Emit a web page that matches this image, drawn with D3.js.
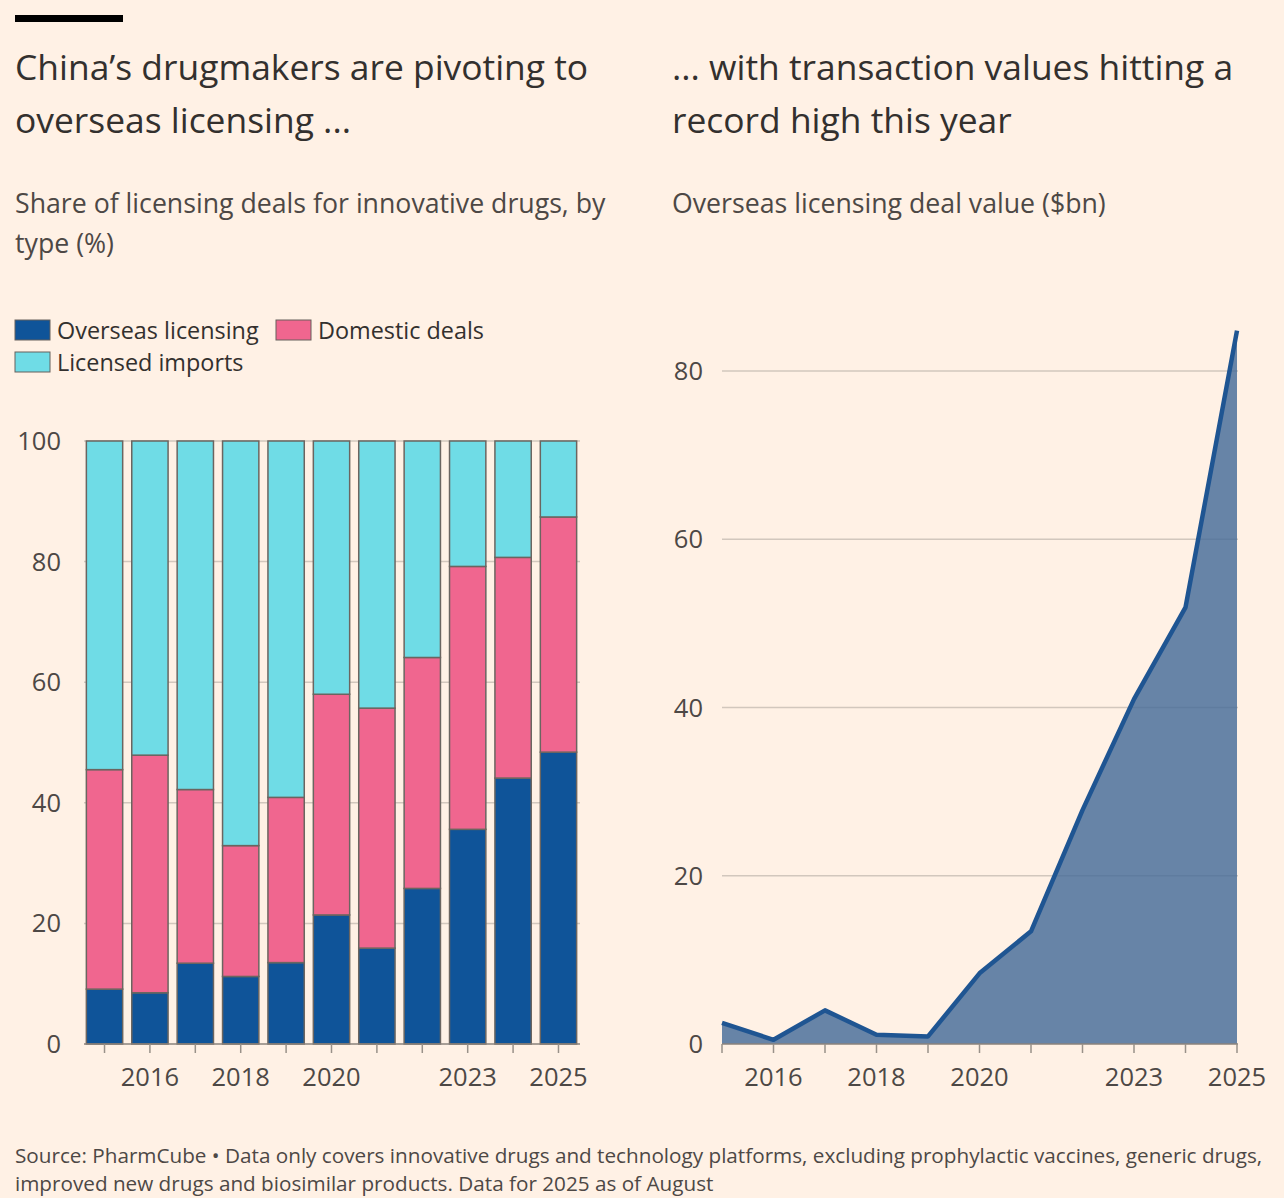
<!DOCTYPE html>
<html>
<head>
<meta charset="utf-8">
<script src="https://cdn.jsdelivr.net/npm/d3@7"></script>
<style>
  html, body { margin: 0; padding: 0; background: #fff1e5; }
  svg { display: block; }
  text { font-family: "Open Sans", Roboto, sans-serif; }
</style>
</head>
<body>
<div id="chart"></div>
<script>
// data
var years = [2015, 2016, 2017, 2018, 2019, 2020, 2021, 2022, 2023, 2024, 2025];
var overseas = [9.1, 8.5, 13.4, 11.2, 13.5, 21.4, 15.9, 25.8, 35.6, 44.1, 48.4];
var domestic = [36.4, 39.4, 28.8, 21.7, 27.4, 36.6, 39.8, 38.3, 43.6, 36.6, 39.0];
var imports = [54.5, 52.1, 57.8, 67.1, 59.1, 42.0, 44.3, 35.9, 20.8, 19.3, 12.6];
var dealValue = [2.5, 0.5, 4.0, 1.1, 0.9, 8.4, 13.4, 27.8, 41.0, 51.9, 84.8];
var xTickLabels = [2016, 2018, 2020, 2023, 2025];
var leftYTicks = [0, 20, 40, 60, 80, 100];
var rightYTicks = [0, 20, 40, 60, 80];
var seriesNames = ["Overseas licensing", "Domestic deals", "Licensed imports"];
var seriesColors = ["#0f5499", "#f0668f", "#6fdce6"];

var W = 1284, H = 1198;
var textCol = "#33302e", axisCol = "#4d4845", gridCol = "#d2c7bd", tickCol = "#999189";

var svg = d3.select("#chart")
    .append("svg")
    .attr("width", W)
    .attr("height", H);

svg.append("rect").attr("width", W).attr("height", H).attr("fill", "#fff1e5");

// top black bar
svg.append("rect").attr("x", 15).attr("y", 15).attr("width", 108).attr("height", 7).attr("fill", "#000");

// titles
function lines(x, y, arr, size, col, lh) {
    var t = svg.append("text").attr("x", x).attr("y", y)
        .style("font-size", size + "px").attr("fill", col);
    arr.forEach(function(s, i) {
        t.append("tspan").attr("x", x).attr("dy", i ? lh : 0).text(s);
    });
    return t;
}
lines(15, 80, ["China\u2019s drugmakers are pivoting to", "overseas licensing ..."], 35.4, textCol, 53);
lines(672, 80, ["... with transaction values hitting a", "record high this year"], 35.4, textCol, 53);
lines(15, 213, ["Share of licensing deals for innovative drugs, by", "type (%)"], 26.7, axisCol, 40);
lines(672, 213, ["Overseas licensing deal value ($bn)"], 26.7, axisCol, 40);

// legend
var legendPos = [[15, 320], [276, 320], [15, 352]];
seriesNames.forEach(function(n, i) {
    var p = legendPos[i];
    svg.append("rect").attr("x", p[0]).attr("y", p[1]).attr("width", 35).attr("height", 20)
        .attr("fill", seriesColors[i]).attr("stroke", "#66605c").attr("stroke-width", 1);
    svg.append("text").attr("x", p[0] + 42).attr("y", p[1] + 19)
        .style("font-size", "23.4px").attr("fill", textCol).text(n);
});

// ---------- left chart: stacked bars ----------
var x1 = d3.scaleBand().domain(years).range([85, 578]).paddingInner(0.2).paddingOuter(0.03);
var y1 = d3.scaleLinear().domain([0, 100]).range([1044, 441]);

var g1 = svg.append("g");
g1.selectAll(".grid").data(leftYTicks.slice(1)).enter().append("line")
    .attr("x1", 84).attr("x2", 580)
    .attr("y1", function(d){ return y1(d) }).attr("y2", function(d){ return y1(d) })
    .attr("stroke", gridCol).attr("stroke-width", 1.5);

var rows = years.map(function(yr, i) {
    return {year: yr, o: overseas[i], d: domestic[i], l: imports[i]};
});
var stack = d3.stack().keys(["o", "d", "l"])(rows);

g1.selectAll(".layer").data(stack).enter().append("g")
    .attr("fill", function(d, i){ return seriesColors[i] })
    .selectAll("rect").data(function(d){ return d }).enter().append("rect")
    .attr("x", function(d){ return x1(d.data.year) })
    .attr("width", x1.bandwidth())
    .attr("y", function(d){ return y1(d[1]) })
    .attr("height", function(d){ return y1(d[0]) - y1(d[1]) })
    .attr("stroke", "#6b6560").attr("stroke-width", 1.5);

g1.append("line").attr("x1", 84).attr("x2", 580).attr("y1", y1(0)).attr("y2", y1(0))
    .attr("stroke", "#8a827b").attr("stroke-width", 1.5);

g1.selectAll(".tick").data(years).enter().append("line")
    .attr("x1", function(d){ return x1(d) + x1.bandwidth() / 2 })
    .attr("x2", function(d){ return x1(d) + x1.bandwidth() / 2 })
    .attr("y1", y1(0)).attr("y2", y1(0) + 9)
    .attr("stroke", tickCol).attr("stroke-width", 1.5);

g1.selectAll(".ylab").data(leftYTicks).enter().append("text")
    .attr("x", 61).attr("y", function(d){ return y1(d) + 9 })
    .attr("text-anchor", "end").style("font-size", "25.5px").attr("fill", axisCol)
    .text(function(d){ return d });

g1.selectAll(".xlab").data(xTickLabels).enter().append("text")
    .attr("x", function(d){ return x1(d) + x1.bandwidth() / 2 })
    .attr("y", 1086)
    .attr("text-anchor", "middle").style("font-size", "25.5px").attr("fill", axisCol)
    .text(function(d){ return d });

// ---------- right chart: area ----------
var x2 = d3.scalePoint().domain(years).range([722, 1237]);
var y2 = d3.scaleLinear().domain([0, 80]).range([1044, 371]);

var g2 = svg.append("g");
g2.selectAll(".grid").data(rightYTicks.slice(1)).enter().append("line")
    .attr("x1", 722).attr("x2", 1238)
    .attr("y1", function(d){ return y2(d) }).attr("y2", function(d){ return y2(d) })
    .attr("stroke", gridCol).attr("stroke-width", 1.5);

var pts = years.map(function(yr, i){ return {year: yr, v: dealValue[i]} });

g2.append("path").datum(pts)
    .attr("d", d3.area().x(function(d){ return x2(d.year) }).y0(y2(0)).y1(function(d){ return y2(d.v) }))
    .attr("fill", "#466b99").attr("fill-opacity", 0.82);

g2.append("line").attr("x1", 722).attr("x2", 1238).attr("y1", y2(0)).attr("y2", y2(0))
    .attr("stroke", "#8a827b").attr("stroke-width", 1.5);

g2.append("path").datum(pts)
    .attr("d", d3.line().x(function(d){ return x2(d.year) }).y(function(d){ return y2(d.v) }))
    .attr("fill", "none").attr("stroke", "#1f5592").attr("stroke-width", 4.5)
    .attr("stroke-linejoin", "round");

g2.selectAll(".tick").data(years).enter().append("line")
    .attr("x1", function(d){ return x2(d) }).attr("x2", function(d){ return x2(d) })
    .attr("y1", y2(0)).attr("y2", y2(0) + 9)
    .attr("stroke", tickCol).attr("stroke-width", 1.5);

g2.selectAll(".ylab").data(rightYTicks).enter().append("text")
    .attr("x", 703).attr("y", function(d){ return y2(d) + 9 })
    .attr("text-anchor", "end").style("font-size", "25.5px").attr("fill", axisCol)
    .text(function(d){ return d });

g2.selectAll(".xlab").data(xTickLabels).enter().append("text")
    .attr("x", function(d){ return x2(d) }).attr("y", 1086)
    .attr("text-anchor", "middle").style("font-size", "25.5px").attr("fill", axisCol)
    .text(function(d){ return d });

// source
lines(15, 1163, ["Source: PharmCube \u2022 Data only covers innovative drugs and technology platforms, excluding prophylactic vaccines, generic drugs,",
    "improved new drugs and biosimilar products. Data for 2025 as of August"], 20.7, axisCol, 28);
</script>
</body>
</html>
